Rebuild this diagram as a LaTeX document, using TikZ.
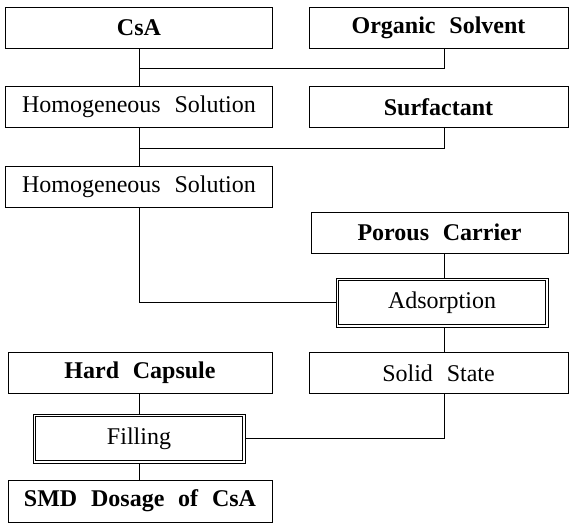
\documentclass[tikz,border=0pt]{standalone}
\usepackage{fontspec}
\setmainfont{Liberation Serif}[WordSpace={2.3}]
\begin{document}
\begin{tikzpicture}[x=1pt,y=1pt,
  box/.style={draw, line width=1pt, rectangle, inner sep=0pt, minimum height=41pt,
    font=\fontsize{24}{24}\selectfont},
  bbox/.style={box, font=\fontsize{24}{24}\selectfont\bfseries},
  dbox/.style={box, minimum height=49pt},
  inner/.style={line width=0.9pt},
  conn/.style={line width=0.9pt}]
\useasboundingbox (0,0) rectangle (572,-523);
\coordinate (lx) at (139,0);
\coordinate (rx) at (444,0);
% left column
\node[bbox, minimum width=267pt] (csa) at (139,-27.5) {CsA};
\node[box, minimum width=267pt] (hs1) at (139,-107) {Homogeneous Solution};
\node[box, minimum width=267pt] (hs2) at (139,-187) {Homogeneous Solution};
\node[bbox, minimum width=264pt] (hc) at (140,-373) {Hard Capsule};
\node[dbox, minimum width=212pt] (fill) at (139,-438.5) {Filling};
\node[bbox, minimum width=264pt, minimum height=42pt] (smd) at (140,-501) {SMD Dosage of CsA};
% right column
\node[bbox, minimum width=259pt] (os) at (438.5,-27.5) {Organic Solvent};
\node[bbox, minimum width=259pt] (surf) at (438.5,-107) {Surfactant};
\node[bbox, minimum width=257pt] (pc) at (439.5,-232.5) {Porous Carrier};
\node[dbox, minimum width=212pt] (ads) at (442,-302.5) {Adsorption};
\node[box, minimum width=259pt] (ss) at (438.5,-373) {Solid State};
% inner borders of the double boxes
\draw[inner] ([shift={(3,3)}]fill.south west) rectangle ([shift={(-3,-3)}]fill.north east);
\draw[inner] ([shift={(3,3)}]ads.south west) rectangle ([shift={(-3,-3)}]ads.north east);
% junctions
\coordinate (j1) at (139,-68);
\coordinate (j2) at (139,-148);
% connectors
\draw[conn] (csa.south -| lx) -- (hs1.north -| lx);
\draw[conn] (os.south -| rx) |- (j1);
\draw[conn] (hs1.south -| lx) -- (hs2.north -| lx);
\draw[conn] (surf.south -| rx) |- (j2);
\draw[conn] (hs2.south -| lx) |- (ads.west);
\draw[conn] (pc.south -| rx) -- (ads.north -| rx);
\draw[conn] (ads.south -| rx) -- (ss.north -| rx);
\draw[conn] (ss.south -| rx) |- (fill.east);
\draw[conn] (hc.south -| lx) -- (fill.north -| lx);
\draw[conn] (fill.south -| lx) -- (smd.north -| lx);
\end{tikzpicture}
\end{document}
